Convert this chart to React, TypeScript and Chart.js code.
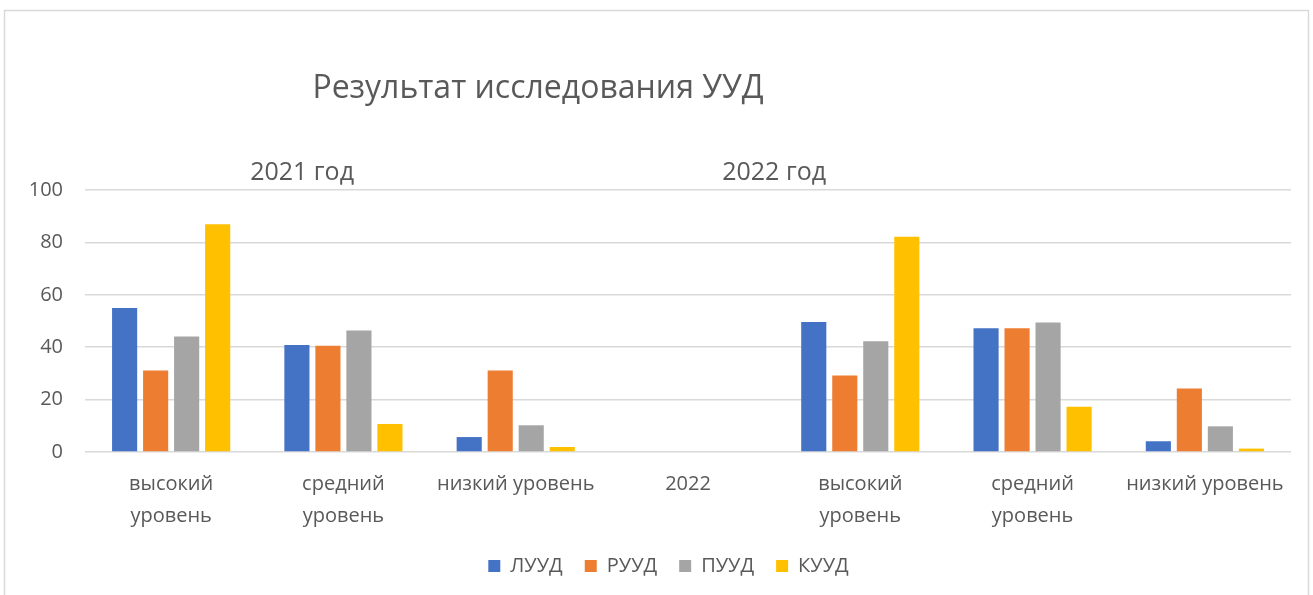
import React, { useEffect, useRef } from "react";
import { Chart, registerables } from "chart.js";

Chart.register(...registerables);

const categories: (string | string[])[] = [
  ["высокий", "уровень"],
  ["средний", "уровень"],
  "низкий уровень",
  "2022",
  ["высокий", "уровень"],
  ["средний", "уровень"],
  "низкий уровень",
];

const luud: (number | null)[] = [55, 40.8, 5.7, null, 49.6, 47.2, 4.1];
const ruud: (number | null)[] = [31.1, 40.6, 31.1, null, 29.2, 47.2, 24.2];
const puud: (number | null)[] = [44.1, 46.4, 10.2, null, 42.3, 49.4, 9.8];
const kuud: (number | null)[] = [86.9, 10.7, 1.9, null, 82.2, 17.3, 1.3];

const seriesNames = ["ЛУУД", "РУУД", "ПУУД", "КУУД"];
const seriesColors = ["#4472C4", "#ED7D31", "#A5A5A5", "#FFC000"];
const yTicks = [0, 20, 40, 60, 80, 100];

const titleText = "Результат исследования УУД";
const groupLabels = ["2021 год", "2022 год"];
const groupLabelPos = [0.76, 3.5];

const FONT = "'Open Sans', 'Noto Sans', sans-serif";
const TEXT = "#595959";

const decorPlugin = {
  id: "decor",
  beforeDraw(chart: any) {
    const ctx = chart.ctx;
    ctx.save();
    ctx.fillStyle = "#ffffff";
    ctx.fillRect(0, 0, chart.width, chart.height);
    ctx.strokeStyle = "#d9d9d9";
    ctx.lineWidth = 1.5;
    ctx.strokeRect(4.5, 10.5, chart.width - 9, chart.height + 20);
    ctx.restore();
  },
  afterLayout(chart: any) {
    const lg = chart.legend;
    if (lg) {
      lg.left += 21;
      lg.right += 21;
      lg.top -= 14;
      lg.bottom -= 14;
    }
  },
  afterDraw(chart: any) {
    const ctx = chart.ctx;
    const xs = chart.scales.x;
    ctx.save();
    ctx.fillStyle = TEXT;
    ctx.textAlign = "center";
    ctx.textBaseline = "middle";
    ctx.font = `32px ${FONT}`;
    ctx.fillText(titleText, 538, 89);
    ctx.font = `25px ${FONT}`;
    groupLabels.forEach((t, i) => {
      ctx.fillText(t, xs.getPixelForValue(groupLabelPos[i]), 173);
    });
    ctx.restore();
  },
};

export default function App() {
  const ref = useRef<HTMLCanvasElement | null>(null);
  useEffect(() => {
    if (!ref.current) return;
    const data = [luud, ruud, puud, kuud];
    const chart = new Chart(ref.current, {
      type: "bar",
      data: {
        labels: categories,
        datasets: data.map((d, i) => ({
          label: seriesNames[i],
          data: d,
          backgroundColor: seriesColors[i],
          borderWidth: 0,
          categoryPercentage: 0.72,
          barPercentage: 0.81,
        })),
      },
      options: {
        responsive: false,
        animation: false,
        layout: { padding: { top: 190, left: 4, right: 22, bottom: -5 } },
        plugins: {
          title: { display: false },
          tooltip: { enabled: false },
          legend: {
            position: "bottom",
            labels: {
              boxWidth: 12,
              boxHeight: 12,
              color: TEXT,
              font: { size: 20, family: FONT },
              padding: 22,
            },
          },
        },
        scales: {
          x: {
            grid: { display: false, drawTicks: false },
            border: { display: false },
            ticks: {
              color: TEXT,
              font: { size: 20, family: FONT, lineHeight: 1.6 },
              maxRotation: 0,
              autoSkip: false,
              padding: 16,
            },
          },
          y: {
            min: 0,
            max: 100,
            afterBuildTicks: (s: any) => {
              s.ticks = yTicks.map((v) => ({ value: v }));
            },
            afterFit: (s: any) => {
              s.width = 81;
            },
            grid: { color: "#d9d9d9", lineWidth: 1.5, drawTicks: false },
            border: { display: false },
            ticks: {
              color: TEXT,
              font: { size: 20, family: FONT },
              padding: 22,
            },
          },
        },
      },
      plugins: [decorPlugin],
    });
    return () => chart.destroy();
  }, []);
  return (
    <div style={{ position: "fixed", left: 0, top: 0, width: 1313, height: 595, background: "#fff" }}>
      <canvas ref={ref} width={1313} height={595} style={{ display: "block" }} />
    </div>
  );
}
